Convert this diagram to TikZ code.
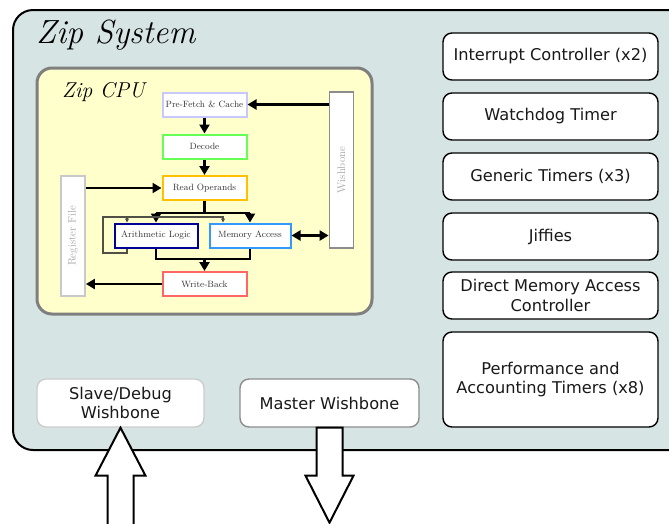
\documentclass[tikz,border=0pt]{standalone}
\usepackage{fontspec}
\newfontfamily\dejavu{DejaVu Sans}
\usetikzlibrary{arrows.meta,calc}
\definecolor{sysbg}{HTML}{D6E4E3}
\definecolor{cpubg}{HTML}{FFFFCC}
\definecolor{cpuedge}{HTML}{7F7F7F}
\definecolor{pfc}{HTML}{C8C8FF}
\definecolor{decc}{HTML}{66FF55}
\definecolor{roc}{HTML}{FFC000}
\definecolor{aluc}{HTML}{000099}
\definecolor{mac}{HTML}{3399FF}
\definecolor{wbc}{HTML}{FF6666}
\definecolor{rfc}{HTML}{C8C8C8}
\definecolor{wbus}{HTML}{8C8C8C}
\definecolor{loopc}{HTML}{505048}
\tikzset{
  x=1pt, y=-1pt,
  stage/.style={draw, line width=2pt, fill=white, minimum width=84pt, minimum height=24pt,
    inner sep=0pt, font=\fontsize{9.1}{10}\selectfont, text=black!80},
  busbar/.style={draw, line width=1.8pt, fill=white, minimum width=24pt, inner sep=0pt,
    font=\fontsize{11}{12}\selectfont, text=black!35},
  periph/.style={draw, rounded corners=9pt, line width=1.4pt, fill=white, minimum width=215pt,
    align=center, inner sep=0pt, font=\dejavu\fontsize{16.2}{19.5}\selectfont, text=black!90},
  port/.style={draw, rounded corners=9pt, line width=1.4pt, fill=white, minimum height=48pt,
    align=center, inner sep=0pt, font=\dejavu\fontsize{16.2}{19.5}\selectfont, text=black!90},
  flow/.style={line width=2.4pt, -{Triangle[length=9pt,width=10pt]}},
  flowl/.style={line width=2.4pt},
  thin/.style={line width=1.1pt, draw=loopc, -{Triangle[length=4pt,width=4pt]}},
  bigarrow/.style={draw, line width=2pt, fill=white, line join=miter},
}
\begin{document}
\begin{tikzpicture}
\clip (0,0) rectangle (669,523);
\fill[white] (0,0) rectangle (669,523);
% Zip System
\node[draw, line width=2pt, fill=sysbg, rounded corners=20pt, minimum width=677pt, minimum height=440pt, inner sep=0pt] (sys) at (351.5,230) {};
\node[anchor=base west, inner sep=0pt, font=\itshape\fontsize{33.5}{36}\selectfont] (systitle) at (36,43) {Zip System};
% Zip CPU
\node[draw=cpuedge, line width=3pt, fill=cpubg, rounded corners=15pt, minimum width=335pt, minimum height=246pt, inner sep=0pt] (cpu) at (204.5,191) {};
\node[anchor=base west, inner sep=0pt, font=\itshape\fontsize{21.5}{24}\selectfont] (cputitle) at (62,97) {Zip CPU};
% stages
\node[stage, draw=pfc] (pf) at (204.5,104.5) {Pre-Fetch \& Cache};
\node[stage, draw=decc] (dec) at (204.5,146.5) {Decode};
\node[stage, draw=roc] (ro) at (204.5,188) {Read Operands};
\node[stage, draw=aluc, minimum width=83pt] (alu) at (156,235.5) {Arithmetic Logic};
\node[stage, draw=mac, minimum width=81pt] (ma) at (250,235.5) {Memory Access};
\node[stage, draw=wbc] (wb) at (204.5,284) {Write-Back};
\node[busbar, draw=rfc, minimum height=120pt] (rf) at (73,236) {\rotatebox{90}{Register File}};
\node[busbar, draw=wbus, minimum height=156pt] (bus) at (341.5,170) {\rotatebox{90}{Wishbone}};
% coordinates for pipeline splits
\coordinate (split) at ($(ro.south)+(0,12)$);
\coordinate (splitL) at (split -| alu.north);
\coordinate (splitR) at (split -| ma.north);
\coordinate (join) at ($(wb.north)+(0,-12)$);
\coordinate (joinL) at (join -| alu.south);
\coordinate (joinR) at (join -| ma.south);
\coordinate (loopA) at (127,253);
\coordinate (loopB) at (103,253);
\coordinate (loopC) at (103,217);
\coordinate (loopD) at (223,217);
% connectors
\draw[flow] (bus.west |- pf.east) -- (pf.east);
\draw[flow] (pf.south) -- (dec.north);
\draw[flow] (dec.south) -- (ro.north);
\draw[flow] (rf.east |- ro.west) -- (ro.west);
\draw[flowl] (ro.south) -- (split);
\draw[flowl] (splitL) -- (splitR);
\draw[flow] (splitL) -- (alu.north);
\draw[flow] (splitR) -- (ma.north);
\draw[thin] (alu.south -| loopA) -- (loopA) -- (loopB) -- (loopC) -- (loopD) -- (loopD |- ma.north);
\draw[thin] (loopC -| loopA) -- (loopA |- alu.north);
\draw[flowl] (alu.south) -- (joinL) -- (joinR) -- (ma.south);
\draw[flow] (join) -- (wb.north);
\draw[flow] (wb.west) -- (rf.east |- wb.west);
\draw[flowl, {Triangle[length=9pt,width=10pt]}-{Triangle[length=9pt,width=10pt]}] (ma.east) -- (bus.west |- ma.east);
% peripherals
\node[periph, minimum height=47pt] (pic) at (550.5,56.5) {Interrupt Controller (x2)};
\node[periph, minimum height=47pt] (wdt) at (550.5,116.5) {Watchdog Timer};
\node[periph, minimum height=47pt] (tmr) at (550.5,176.5) {Generic Timers (x3)};
\node[periph, minimum height=47pt] (jif) at (550.5,236.5) {Jiffies};
\node[periph, minimum height=47pt] (dma) at (550.5,295.5) {Direct Memory Access\\Controller};
\node[periph, minimum height=95pt] (perf) at (550.5,379.5) {Performance and\\Accounting Timers (x8)};
% ports
\node[port, draw=black!20, minimum width=167pt] (slave) at (120.5,403) {Slave/Debug\\Wishbone};
\node[port, draw=black!45, minimum width=179pt] (master) at (329.5,403) {Master Wishbone};
% big arrows
\draw[bigarrow] (slave.south) -- ++(25,48) -- ++(-12,0) -- ++(0,60) -- ++(-26,0) -- ++(0,-60) -- ++(-12,0) -- cycle;
\draw[bigarrow] ($(master.south)+(-13,0)$) -- ++(26,0) -- ++(0,48) -- ++(11,0) -- ($(master.south)+(0,95)$) -- ++(-24,-47) -- ++(11,0) -- cycle;
\end{tikzpicture}
\end{document}
